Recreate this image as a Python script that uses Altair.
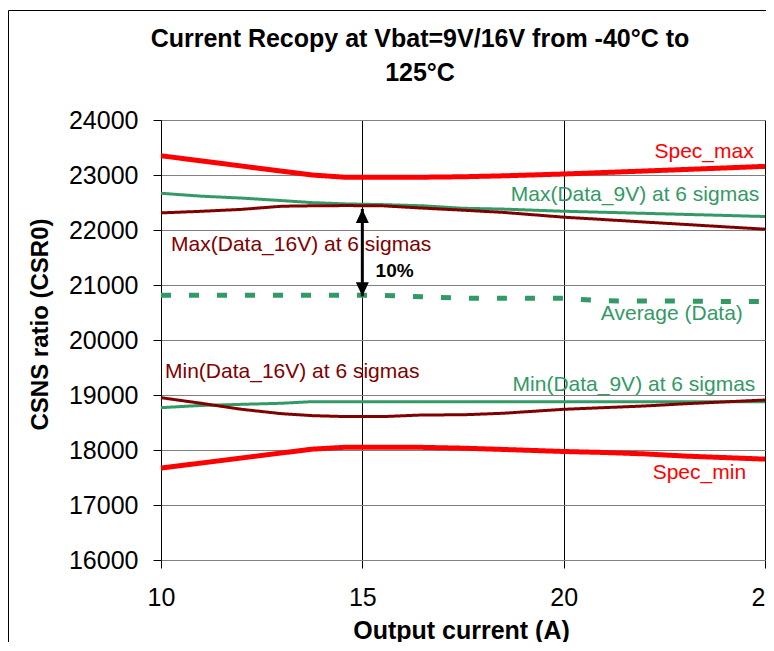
import altair as alt
import pandas as pd

FONT = "Liberation Sans"
GREEN = "#339966"
DARKRED = "#800000"
RED = "#FF0000"

current = [10, 11, 12, 13, 13.75, 14.6, 15.5, 16.5, 17.5, 18.5, 20, 21, 22, 23, 24, 25]
spec_max = [23350, 23257, 23163, 23070, 23000, 22958, 22958, 22960, 22968, 22985, 23018, 23045, 23072, 23100, 23128, 23157]
spec_min = [17671, 17763, 17855, 17947, 18015, 18051, 18051, 18048, 18033, 18010, 17973, 17955, 17930, 17890, 17862, 17834]
max_9v = [22668, 22615, 22580, 22535, 22498, 22474, 22462, 22440, 22395, 22380, 22341, 22322, 22303, 22284, 22265, 22245]
max_16v = [22311, 22340, 22375, 22432, 22440, 22444, 22440, 22398, 22360, 22320, 22233, 22190, 22145, 22102, 22058, 22015]
average = [20813, 20813, 20813, 20813, 20813, 20813, 20813, 20785, 20758, 20758, 20758, 20712, 20710, 20708, 20698, 20698]
min_16v = [18951, 18849, 18740, 18660, 18625, 18607, 18607, 18637, 18640, 18668, 18740, 18770, 18800, 18840, 18875, 18909]
min_9v = [18770, 18810, 18830, 18850, 18879, 18879, 18879, 18879, 18879, 18879, 18879, 18879, 18879, 18879, 18879, 18879]

series = [
    ("Max(Data_9V) at 6 sigmas", max_9v, GREEN, 3, [1, 0]),
    ("Max(Data_16V) at 6 sigmas", max_16v, DARKRED, 3, [1, 0]),
    ("Average (Data)", average, GREEN, 5, [10, 18]),
    ("Min(Data_9V) at 6 sigmas", min_9v, GREEN, 3, [1, 0]),
    ("Min(Data_16V) at 6 sigmas", min_16v, DARKRED, 3, [1, 0]),
    ("Spec_max", spec_max, RED, 5, [1, 0]),
    ("Spec_min", spec_min, RED, 5, [1, 0]),
]

label_text = ["Spec_max", "Max(Data_9V) at 6 sigmas", "Max(Data_16V) at 6 sigmas", "Average (Data)",
              "Min(Data_16V) at 6 sigmas", "Min(Data_9V) at 6 sigmas", "Spec_min"]
label_x = [24.72, 24.86, 10.25, 24.45, 10.1, 24.76, 24.53]
label_y = [23305, 22534, 21610, 20360, 19304, 19080, 17478]
label_align = ["right", "right", "left", "right", "left", "right", "right"]
label_color = [RED, GREEN, DARKRED, GREEN, DARKRED, GREEN, RED]

arrow_x = 15
arrow_top = 22384
arrow_bottom = 20795
pct_text = "10%"
pct_x = 15.33
pct_y = 21145

xscale = alt.Scale(domain=[10, 25], nice=False, zero=False)
yscale = alt.Scale(domain=[16000, 24000], nice=False, zero=False)

x_axis = alt.Axis(values=[10, 15, 20, 25], format="d", labelFontSize=25, labelFont=FONT,
                  labelColor="black", labelFlush=False, labelPadding=17, tickSize=8,
                  tickColor="black", domainColor="#808080", gridColor="black", gridWidth=1,
                  title="Output current (A)", titleFont=FONT, titleFontSize=25,
                  titleFontWeight="bold", titleColor="black", titleBaseline="alphabetic",
                  titleY=78, titleX=300, titleAlign="center")
y_axis = alt.Axis(values=list(range(16000, 24001, 1000)), format="d", labelFontSize=25,
                  labelFont=FONT, labelColor="black", labelPadding=15, tickSize=8,
                  tickColor="black", domainColor="black", gridColor="#808080", gridWidth=1,
                  title="CSNS ratio (CSR0)", titleFont=FONT, titleFontSize=24,
                  titleFontWeight="bold", titleColor="black", titleBaseline="alphabetic",
                  titleAngle=270, titleX=-114, titleY=204, titleAlign="center")

layers = []
base_df = pd.DataFrame({"x": current, "y": spec_max})
layers.append(
    alt.Chart(base_df).mark_line(opacity=0).encode(
        x=alt.X("x:Q", scale=xscale, axis=x_axis),
        y=alt.Y("y:Q", scale=yscale, axis=y_axis),
    )
)
for name, vals, color, width, dash in series:
    df = pd.DataFrame({"x": current, "y": vals})
    layers.append(
        alt.Chart(df).mark_line(color=color, strokeWidth=width, strokeDash=dash).encode(
            x=alt.X("x:Q", scale=xscale), y=alt.Y("y:Q", scale=yscale)
        )
    )

lab_df = pd.DataFrame({"t": label_text, "x": label_x, "y": label_y,
                       "a": label_align, "c": label_color})
for al in ["left", "right"]:
    layers.append(
        alt.Chart(lab_df).transform_filter(alt.datum.a == al).mark_text(
            align=al, baseline="alphabetic", font=FONT, fontSize=21
        ).encode(
            x=alt.X("x:Q", scale=xscale), y=alt.Y("y:Q", scale=yscale), text="t:N",
            color=alt.Color("c:N", scale=None),
        )
    )

arr_df = pd.DataFrame({"x": [arrow_x], "y": [arrow_top], "y2": [arrow_bottom]})
layers.append(
    alt.Chart(arr_df).mark_rule(color="black", strokeWidth=3).encode(
        x=alt.X("x:Q", scale=xscale), y=alt.Y("y:Q", scale=yscale), y2="y2:Q"
    )
)
layers.append(
    alt.Chart(arr_df).mark_point(shape="M0,0L-0.93,2L0.93,2Z", size=196, filled=True,
                                 color="black", opacity=1).encode(
        x=alt.X("x:Q", scale=xscale), y=alt.Y("y:Q", scale=yscale)
    )
)
layers.append(
    alt.Chart(arr_df).mark_point(shape="M0,0L-0.93,-2L0.93,-2Z", size=196, filled=True,
                                 color="black", opacity=1).encode(
        x=alt.X("x:Q", scale=xscale), y=alt.Y("y2:Q", scale=yscale)
    )
)
pct_df = pd.DataFrame({"t": [pct_text], "x": [pct_x], "y": [pct_y]})
layers.append(
    alt.Chart(pct_df).mark_text(align="left", baseline="alphabetic", font=FONT, fontSize=19,
                                fontWeight="bold", color="black").encode(
        x=alt.X("x:Q", scale=xscale), y=alt.Y("y:Q", scale=yscale), text="t:N"
    )
)
frame_df = pd.DataFrame({"k": [0]})
layers.append(
    alt.Chart(frame_df).mark_rect(fillOpacity=0, stroke="black", strokeWidth=1).encode(
        x=alt.value(-152.5), x2=alt.value(700), y=alt.value(-109.5), y2=alt.value(600)
    )
)

chart = alt.layer(*layers).properties(
    width=604, height=440,
    autosize=alt.AutoSizeParams(type="none"),
    padding={"left": 153, "top": 112, "right": 1, "bottom": 82},
    title=alt.TitleParams(
        text=["Current Recopy at Vbat=9V/16V from -40°C to", "125°C"],
        font=FONT, fontSize=25, fontWeight="bold", color="black", lineHeight=34,
        anchor="middle", dx=-43, dy=80,
    ),
).configure_view(stroke=None).configure(background="white")

chart.save("out.html", embed_options={"renderer": "svg", "actions": False})
